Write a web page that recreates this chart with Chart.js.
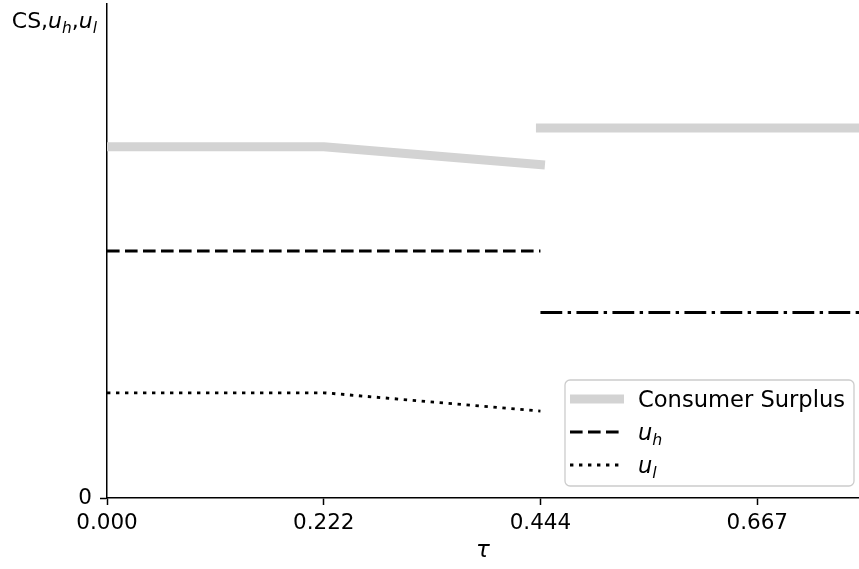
<!DOCTYPE html>
<html>
<head>
<meta charset="utf-8">
<script src="https://cdn.jsdelivr.net/npm/chart.js@4/dist/chart.umd.min.js"></script>
<style>
  html, body { margin:0; padding:0; background:#fff; }
  #wrap { width:859px; height:569px; position:relative; }
</style>
</head>
<body>
<div id="wrap"><canvas id="csChart"></canvas></div>
<script>
// values (y in arbitrary units, axis 0..1)
const tauLow = [0, 0.2222, 0.4444];
const tauHigh = [0.4444, 0.771];
const csLow = [0.711, 0.711, 0.675];
const csHigh = [0.749, 0.749];
const uhLow = [0.500, 0.500, 0.500];
const ulLow = [0.213, 0.213, 0.176];
const uHigh = [0.3755, 0.3755];   // u_h = u_l above the threshold
const xTickVals = [0, 0.2222, 0.4444, 0.6667];
const xTickLabels = ['0.000', '0.222', '0.444', '0.667'];
const yTickVals = [0];
const yTickLabels = ['0'];

const FONT = "'DejaVu Sans', sans-serif";
const pts = (xs, ys) => xs.map((x, i) => ({x, y: ys[i]}));

// text with italic letters and subscripts, e.g. u_h
function richParts(str){
  const out = [];
  const re = /([A-Za-z])_([A-Za-z])/g;
  let last = 0, m;
  while ((m = re.exec(str))){
    if (m.index > last) out.push({t: str.slice(last, m.index)});
    out.push({t: m[1], it: true});
    out.push({t: m[2], it: true, sub: true});
    last = re.lastIndex;
  }
  if (last < str.length) out.push({t: str.slice(last)});
  return out;
}
function richWidth(ctx, parts, size){
  let w = 0;
  parts.forEach(p => {
    const s = p.sub ? size*0.7 : size;
    ctx.font = (p.it ? 'italic ' : '') + s + 'px ' + FONT;
    w += ctx.measureText(p.t).width;
  });
  return w;
}
function drawRich(ctx, parts, x, y, size){
  ctx.textBaseline = 'alphabetic';
  ctx.textAlign = 'left';
  parts.forEach(p => {
    const s = p.sub ? size*0.7 : size;
    ctx.font = (p.it ? 'italic ' : '') + s + 'px ' + FONT;
    ctx.fillText(p.t, x, y + (p.sub ? size*0.22 : 0));
    x += ctx.measureText(p.t).width;
  });
}

const yLabelPlugin = {
  id: 'yLabel',
  afterDraw(chart){
    const ctx = chart.ctx;
    const parts = richParts('CS,u_h,u_l');
    const w = richWidth(ctx, parts, 22);
    ctx.save();
    ctx.fillStyle = '#000';
    drawRich(ctx, parts, chart.chartArea.left - 10 - w, 28, 22);
    ctx.restore();
  }
};

const legendPlugin = {
  id: 'mplLegend',
  afterDatasetsDraw(chart){
    const ctx = chart.ctx, a = chart.chartArea;
    const items = chart.data.datasets.filter(d => d.legend);
    const right = a.right - 5, bottom = a.bottom - 12;
    const w = 289, rowH = 33, h = 19 + rowH*(items.length - 1) + 21;
    const left = right - w, top = bottom - h;
    ctx.save();
    ctx.beginPath();
    ctx.roundRect(left, top, w, h, 5);
    ctx.fillStyle = 'rgba(255,255,255,0.8)';
    ctx.fill();
    ctx.lineWidth = 1.3;
    ctx.strokeStyle = '#cccccc';
    ctx.stroke();
    items.forEach((d, i) => {
      const y = top + 19 + i*rowH;
      ctx.beginPath();
      ctx.setLineDash(d.borderDash || []);
      ctx.lineCap = d.borderCapStyle || 'butt';
      ctx.lineWidth = d.borderWidth;
      ctx.strokeStyle = d.borderColor;
      const sq = d.borderCapStyle === 'square' ? d.borderWidth/2 : 0;
      ctx.moveTo(left + 5 + sq, y); ctx.lineTo(left + 59 - sq, y);
      ctx.stroke();
      ctx.setLineDash([]);
      ctx.fillStyle = '#000';
      drawRich(ctx, richParts(d.label), left + 73, y + 8, 22.6);
    });
    ctx.restore();
  }
};

const grey = '#d3d3d3';
const common = {showLine: true, pointRadius: 0, fill: false, tension: 0, clip: 0, borderJoinStyle: 'round'};

new Chart(document.getElementById('csChart').getContext('2d'), {
  type: 'scatter',
  data: {
    datasets: [
      Object.assign({}, common, {label: 'Consumer Surplus', legend: true, data: pts(tauLow, csLow),
        borderColor: grey, borderWidth: 9, borderCapStyle: 'square'}),
      Object.assign({}, common, {label: 'cs2', data: pts(tauHigh, csHigh),
        borderColor: grey, borderWidth: 9, borderCapStyle: 'square'}),
      Object.assign({}, common, {label: 'u_h', legend: true, data: pts(tauLow, uhLow),
        borderColor: '#000', borderWidth: 2.8, borderDash: [12.6, 5.4]}),
      Object.assign({}, common, {label: 'u_l', legend: true, data: pts(tauLow, ulLow),
        borderColor: '#000', borderWidth: 2.8, borderDash: [3.4, 5.6]}),
      Object.assign({}, common, {label: 'u2', data: pts(tauHigh, uHigh),
        borderColor: '#000', borderWidth: 2.8, borderDash: [21.8, 5.4, 3.4, 5.4]})
    ]
  },
  options: {
    responsive: true,
    maintainAspectRatio: false,
    animation: false,
    layout: {padding: {top: 4, right: 0, left: 0, bottom: 0}},
    plugins: {legend: {display: false}, tooltip: {enabled: false}},
    scales: {
      x: {
        type: 'linear', min: 0, max: 0.771,
        afterBuildTicks: s => { s.ticks = xTickVals.map(v => ({value: v})); },
        afterFit: s => { s.height = 71; s.paddingLeft = 0; s.paddingRight = 0; },
        grid: {drawOnChartArea: false, drawTicks: true, tickLength: 7, tickColor: '#000', tickWidth: 1.5},
        border: {display: true, color: '#000', width: 1.5},
        ticks: {autoSkip: false, maxRotation: 0, padding: 6, color: '#000',
          font: {family: FONT, size: 21.5},
          callback: (v, i) => xTickLabels[i]},
        title: {display: true, text: 'τ', color: '#000', padding: {top: 2},
          font: {family: FONT, size: 23, style: 'italic'}}
      },
      y: {
        type: 'linear', min: 0, max: 1,
        afterBuildTicks: s => { s.ticks = yTickVals.map(v => ({value: v})); },
        afterFit: s => { s.width = 107; s.paddingTop = 0; s.paddingBottom = 0; },
        grid: {drawOnChartArea: false, drawTicks: true, tickLength: 7, tickColor: '#000', tickWidth: 1.5},
        border: {display: true, color: '#000', width: 1.5},
        ticks: {padding: 8, color: '#000', font: {family: FONT, size: 21.5},
          callback: (v, i) => yTickLabels[i]}
      }
    }
  },
  plugins: [yLabelPlugin, legendPlugin]
});
</script>
</body>
</html>
